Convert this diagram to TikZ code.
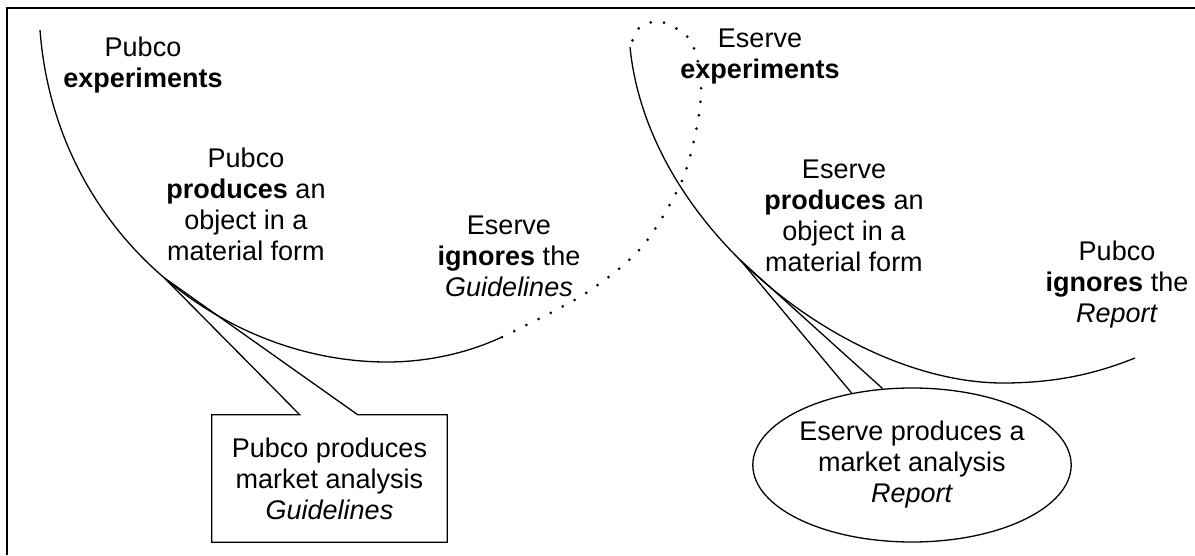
\documentclass[tikz,border=0pt]{standalone}
\usepackage{fontspec}
\setmainfont{Liberation Sans}
\usetikzlibrary{shapes.geometric,calc}
\tikzset{
  lbl/.style={align=center, inner sep=0pt, font=\fontsize{27}{31}\selectfont},
  arcline/.style={line width=1.3pt},
  dotline/.style={line width=3pt, line cap=round, dash pattern=on 0pt off 13.6pt},
  frameline/.style={line width=2.2pt},
}
\begin{document}
\begin{tikzpicture}[x=1pt,y=-1pt]
\useasboundingbox (0,0) rectangle (1195,555);
% frame
\draw[frameline] (7,555) -- (7,8) -- (1196,8);

% left arc, with the callout tip on it
\coordinate (lstart) at (40,30);
\coordinate (lbot) at (387,362);
\coordinate (lend) at (502,337);
\draw[arcline] (lstart) .. controls (55,230) and (220,362) .. coordinate[pos=0.52] (ltip) (lbot)
  .. controls (430,362) and (470,352) .. (lend);

% right arc, with the callout tip on it
\coordinate (rstart) at (630,47);
\coordinate (rbot) at (1003,383);
\coordinate (rend) at (1135,358);
\draw[arcline] (rstart) .. controls (648,230) and (850,383) .. coordinate[pos=0.44] (rtip) (rbot)
  .. controls (1060,383) and (1100,372) .. (rend);

% dotted loop joining the arcs
\draw[dotline] plot[smooth] coordinates {(lend) (583,295) (641,248) (681,183) (697,126) (701,80) (690,40) (662,22) (640,27) (rstart)};

% labels
\node[lbl] (pexp) at (143,65) {Pubco\\\textbf{experiments}};
\node[lbl] (pprod) at (246,204) {Pubco\\\textbf{produces} an\\object in a\\material form};
\node[lbl] (eign) at (509,256) {Eserve\\\textbf{ignores} the\\\textit{Guidelines}};
\node[lbl] (eexp) at (760,57) {Eserve\\\textbf{experiments}};
\node[lbl] (eprod) at (844,216) {Eserve\\\textbf{produces} an\\object in a\\material form};
\node[lbl] (pign) at (1117,285) {Pubco\\\textbf{ignores} the\\\textit{Report}};

% Guidelines callout box
\node[lbl, minimum width=235pt, minimum height=127pt] (guide) at (329.5,478.5)
  {Pubco produces\\market analysis\\\textit{Guidelines}};
\draw[arcline] ([xshift=88pt]guide.north west) -- (guide.north west) -- (guide.south west)
  -- (guide.south east) -- (guide.north east) -- ([xshift=146pt]guide.north west) -- (ltip) -- cycle;

% Report callout ellipse
\node[lbl, ellipse, draw, arcline, minimum width=308pt, minimum height=154pt] (report) at (912,465)
  {Eserve produces a\\market analysis\\\textit{Report}};
\draw[arcline] (report.130) -- (rtip) -- (report.111);
\end{tikzpicture}
\end{document}
